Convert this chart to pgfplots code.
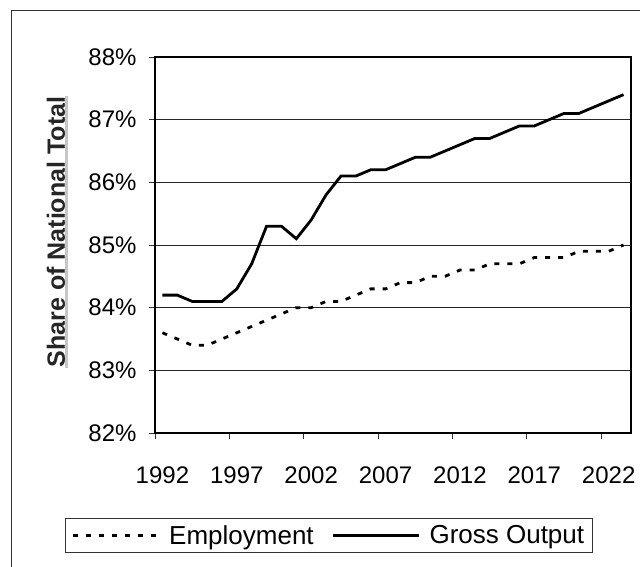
\documentclass[border=0pt]{standalone}
\usepackage{pgfplots}
\pgfplotsset{compat=1.18}
\usepackage{fontspec}
\setmainfont{Liberation Sans}
\begin{document}
\begin{tikzpicture}[x=1pt,y=1pt]
\path[use as bounding box] (0,0) rectangle (640,566);
\draw[line width=1pt, black!80] (11,-20) rectangle (700,555);
\begin{axis}[
 at={(155pt,133pt)}, anchor=south west,
 scale only axis, width=476pt, height=376pt,
 xmin=1991.5, xmax=2023.5, ymin=82, ymax=88,
 xtick={1991.5,1996.5,2001.5,2006.5,2011.5,2016.5,2021.5}, xticklabels={},
 extra x ticks={1992,1997,2002,2007,2012,2017,2022},
 extra x tick labels={1992,1997,2002,2007,2012,2017,2022},
 extra x tick style={major tick length=0pt, tick label style={yshift=-30pt}},
 ytick={82,83,84,85,86,87,88},
 yticklabels={82\%,83\%,84\%,85\%,86\%,87\%,88\%},
 yticklabel style={xshift=-9pt},
 ymajorgrids, grid style={line width=0.8pt, black!85},
 axis line style={line width=2.5pt},
 tick style={line width=0.8pt, black!80},
 tick align=outside, major tick length=6pt,
 xtick pos=bottom, ytick pos=left,
 tick label style={font=\fontsize{24}{27}\selectfont},
 legend style={at={(-0.189,-0.226)}, anchor=north west, draw=black!80, line width=0.8pt,
   legend columns=2, font=\fontsize{26}{29}\selectfont, inner xsep=6pt, inner ysep=5pt,
   /tikz/every odd column/.append style={column sep=7pt},
   /tikz/every even column/.append style={column sep=16pt}},
 legend image code/.code={\draw[#1] (0pt,0pt) -- (86pt,0pt);},
]
\addplot[black, line width=2.8pt, dash pattern=on 5pt off 8pt] coordinates {
(1992,83.6)(1993,83.5)(1994,83.4)(1995,83.4)(1996,83.5)(1997,83.6)(1998,83.7)(1999,83.8)
(2000,83.9)(2001,84.0)(2002,84.0)(2003,84.1)(2004,84.1)(2005,84.2)(2006,84.3)(2007,84.3)
(2008,84.4)(2009,84.4)(2010,84.5)(2011,84.5)(2012,84.6)(2013,84.6)(2014,84.7)(2015,84.7)
(2016,84.7)(2017,84.8)(2018,84.8)(2019,84.8)(2020,84.9)(2021,84.9)(2022,84.9)(2023,85.0)};
\addlegendentry{Employment}
\addplot[black, line width=2.8pt] coordinates {
(1992,84.2)(1993,84.2)(1994,84.1)(1995,84.1)(1996,84.1)(1997,84.3)(1998,84.7)(1999,85.3)
(2000,85.3)(2001,85.1)(2002,85.4)(2003,85.8)(2004,86.1)(2005,86.1)(2006,86.2)(2007,86.2)
(2008,86.3)(2009,86.4)(2010,86.4)(2011,86.5)(2012,86.6)(2013,86.7)(2014,86.7)(2015,86.8)
(2016,86.9)(2017,86.9)(2018,87.0)(2019,87.1)(2020,87.1)(2021,87.2)(2022,87.3)(2023,87.4)};
\addlegendentry{Gross Output}
\end{axis}
\node[rotate=90, inner sep=1pt, font=\bfseries\fontsize{25}{28}\selectfont, text=black!85] (yl) at (56,334) {Share of National Total};
\draw[gray!45, line width=3pt] (yl.south west) -- (yl.south east);
\end{tikzpicture}
\end{document}
